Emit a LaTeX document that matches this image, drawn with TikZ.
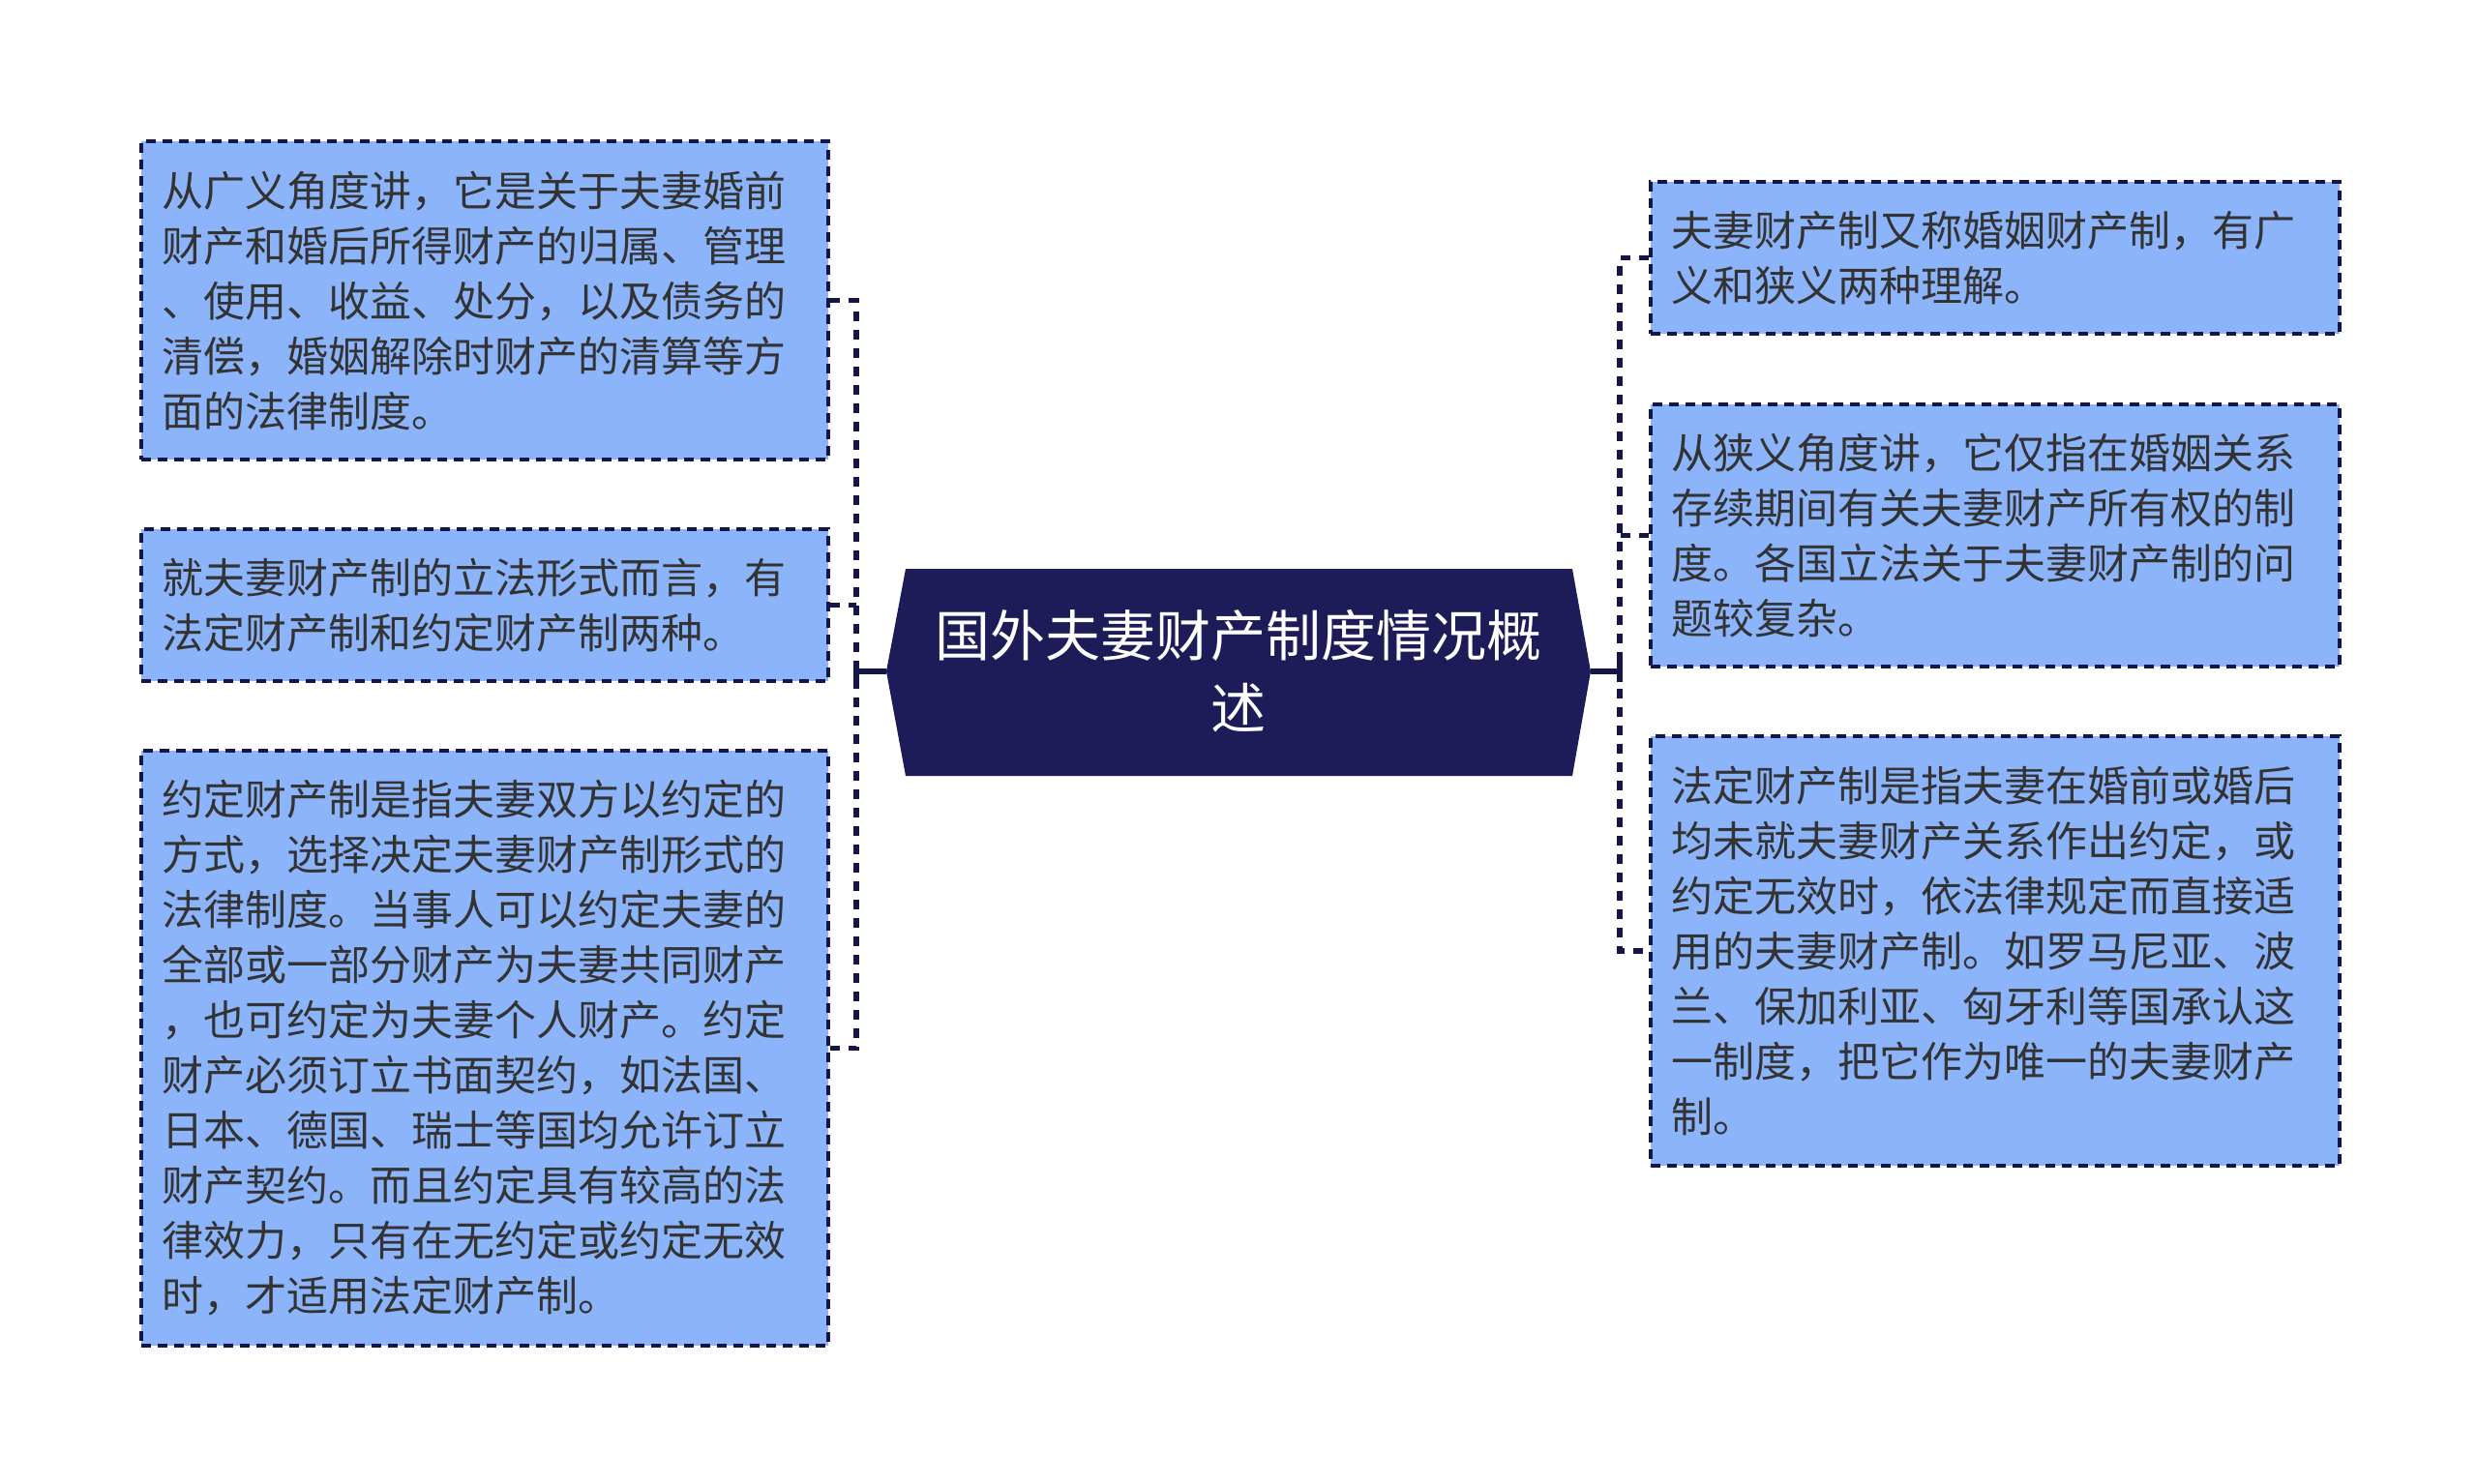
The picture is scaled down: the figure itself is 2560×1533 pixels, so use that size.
\documentclass[tikz,border=0pt]{standalone}
\usepackage{fontspec}
\setmainfont{Noto Sans CJK SC}
\definecolor{leafc}{HTML}{8CB4FA}
\definecolor{edgec}{HTML}{141648}
\definecolor{rootc}{HTML}{1D1B58}
\definecolor{txtc}{HTML}{333333}
\begin{document}
\begin{tikzpicture}[x=0.5pt,y=-0.5pt,
  leaf/.style={draw=edgec, line width=2pt, dash pattern=on 5pt off 3.5pt, fill=leafc,
    text=txtc, font=\fontsize{21.5}{28.5}\selectfont, align=left, anchor=north west,
    inner xsep=10.5pt, inner ysep=0pt},
  dconn/.style={draw=edgec, line width=2.8pt, dash pattern=on 5pt off 4.5pt},
  sconn/.style={draw=edgec, line width=2.6pt},
  roottext/.style={text=white, font=\fontsize{28.5}{37.5}\selectfont, align=center}]
\useasboundingbox (0,0) rectangle (2560,1533);
% root shape
\coordinate (cl) at (916,694);
\coordinate (cr) at (1644,694);
\fill[rootc] (cl) -- (936,588) -- (1625,588) -- (cr) -- (1625,802) -- (936,802) -- cycle;
\node[roottext] (root) at (1280,694) {国外夫妻财产制度情况概\\述};
% left boxes
\node[leaf, text width=334pt, minimum height=164.5pt] (L1) at (144,144) {从广义角度讲，它是关于夫妻婚前\\财产和婚后所得财产的归属、管理\\、使用、收益、处分，以及债务的\\清偿，婚姻解除时财产的清算等方\\面的法律制度。};
\node[leaf, text width=334pt, minimum height=78.5pt] (L2) at (144,545) {就夫妻财产制的立法形式而言，有\\法定财产制和约定财产制两种。};
\node[leaf, text width=334pt, minimum height=307.5pt] (L3) at (144,774) {约定财产制是指夫妻双方以约定的\\方式，选择决定夫妻财产制形式的\\法律制度。当事人可以约定夫妻的\\全部或一部分财产为夫妻共同财产\\，也可约定为夫妻个人财产。约定\\财产必须订立书面契约，如法国、\\日本、德国、瑞士等国均允许订立\\财产契约。而且约定具有较高的法\\律效力，只有在无约定或约定无效\\时，才适用法定财产制。};
% right boxes
\node[leaf, text width=335pt, minimum height=78.5pt] (R1) at (1704,186) {夫妻财产制又称婚姻财产制，有广\\义和狭义两种理解。};
\node[leaf, text width=335pt, minimum height=135.5pt] (R2) at (1704,416) {从狭义角度讲，它仅指在婚姻关系\\存续期间有关夫妻财产所有权的制\\度。各国立法关于夫妻财产制的问\\题较复杂。};
\node[leaf, text width=335pt, minimum height=222pt] (R3) at (1704,759) {法定财产制是指夫妻在婚前或婚后\\均未就夫妻财产关系作出约定，或\\约定无效时，依法律规定而直接适\\用的夫妻财产制。如罗马尼亚、波\\兰、保加利亚、匈牙利等国承认这\\一制度，把它作为唯一的夫妻财产\\制。};
% connectors
\coordinate (tl) at (885,694);
\coordinate (tr) at (1674,694);
\draw[dconn] (L1.east) -- (L1.east -| tl) -- (L3.east -| tl) -- (L3.east);
\draw[dconn] (L2.east) -- (L2.east -| tl);
\draw[sconn] (cl) -- (tl);
\draw[sconn] ([yshift=-5.5pt]tl) -- ([yshift=5.5pt]tl);
\draw[dconn] (R1.west) -- (R1.west -| tr) -- (R3.west -| tr) -- (R3.west);
\draw[dconn] (R2.west) -- (R2.west -| tr);
\draw[sconn] (cr) -- (tr);
\draw[sconn] ([yshift=-5.5pt]tr) -- ([yshift=5.5pt]tr);
\end{tikzpicture}
\end{document}
